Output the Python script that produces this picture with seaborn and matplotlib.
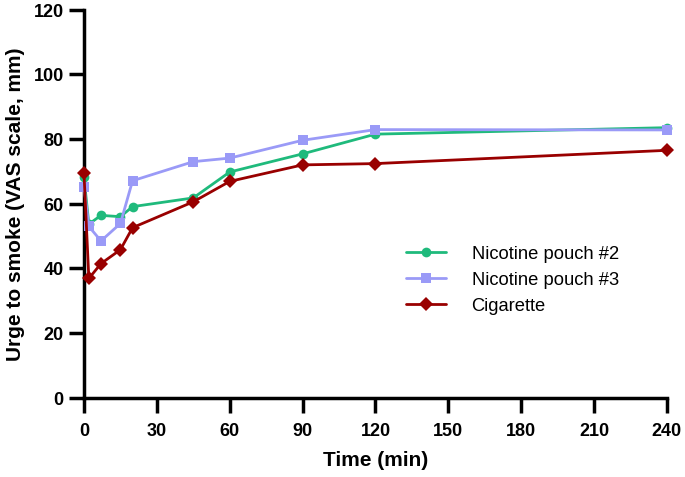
import pandas as pd
import matplotlib
matplotlib.use('Agg')
import matplotlib.pyplot as plt
import seaborn as sns

# Time points (min)
time_min = [0, 2, 7, 15, 20, 45, 60, 90, 120, 240]

# Urge to smoke (VAS, mm) per product
pouch2 = [68.2, 53.7, 56.4, 56.0, 59.1, 61.8, 69.8, 75.4, 81.5, 83.5]
pouch3 = [65.3, 53.0, 48.5, 53.9, 67.1, 73.0, 74.1, 79.6, 82.9, 82.8]
cigarette = [69.4, 36.9, 41.5, 45.8, 52.6, 60.6, 66.9, 72.0, 72.4, 76.5]

series_names = ['Nicotine pouch #2', 'Nicotine pouch #3', 'Cigarette']
colors = ['#1fba7c', '#9a9af7', '#990000']
markers = ['o', 's', 'D']

x_ticks = [0, 30, 60, 90, 120, 150, 180, 210, 240]
y_ticks = [0, 20, 40, 60, 80, 100, 120]

df = pd.DataFrame({
    'Time': time_min * 3,
    'Urge': pouch2 + pouch3 + cigarette,
    'Product': [n for n in series_names for _ in time_min],
})

sns.set_style('ticks')
plt.rcParams['font.family'] = ['Liberation Sans', 'DejaVu Sans']
plt.rcParams.update({'text.color': 'black', 'axes.labelcolor': 'black',
                     'xtick.color': 'black', 'ytick.color': 'black'})

fig = plt.figure(figsize=(6.85, 4.775), dpi=100)
ax = fig.add_axes([0.1226, 0.1656, 0.851, 0.8134])

sns.lineplot(data=df, x='Time', y='Urge', hue='Product', style='Product',
             palette=colors, markers=markers, dashes=False, markersize=7,
             markeredgewidth=0, linewidth=2, ax=ax, legend=False)

ax.set_xlim(0, 240)
ax.set_ylim(0, 120)
ax.set_xticks(x_ticks)
ax.set_yticks(y_ticks)
ax.set_xlabel('Time (min)', fontsize=15, fontweight='bold', labelpad=8)
ax.set_ylabel('Urge to smoke (VAS scale, mm)', fontsize=15, fontweight='bold', labelpad=6)
for lab in ax.get_xticklabels() + ax.get_yticklabels():
    lab.set_fontweight('bold')
    lab.set_fontsize(13)

sns.despine(ax=ax)
for s in ['left', 'bottom']:
    ax.spines[s].set_visible(True)
    ax.spines[s].set_linewidth(2.5)
    ax.spines[s].set_color('black')
ax.tick_params(axis='both', direction='out', length=11, width=2.5, color='black',
               labelcolor='black', bottom=True, left=True)
ax.tick_params(axis='x', pad=6.5)
ax.tick_params(axis='y', pad=3.6)
for line in ax.lines:
    line.set_clip_on(False)
    line.set_zorder(3)

handles = [plt.Line2D([], [], color=c, marker=m, markersize=7, markeredgewidth=0, linewidth=2)
           for c, m in zip(colors, markers)]
ax.legend(handles, series_names, loc='upper left', bbox_to_anchor=(0.568, 0.52),
          bbox_transform=fig.transFigure, frameon=False, fontsize=13.2,
          handlelength=2.2, handletextpad=1.4, labelspacing=0.5, labelcolor='black')

fig.savefig('out.png', dpi=100)
